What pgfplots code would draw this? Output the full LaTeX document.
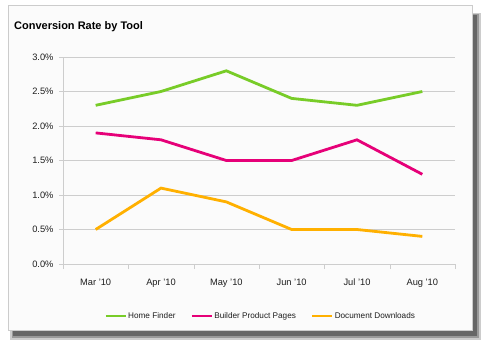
\documentclass[border=0pt]{standalone}
\usepackage{pgfplots}
\pgfplotsset{compat=1.18}
\usepackage{fontspec}
\setmainfont{Liberation Sans}
\definecolor{cgreen}{RGB}{120,204,40}
\definecolor{cpink}{RGB}{230,0,120}
\definecolor{corange}{RGB}{255,176,0}
\definecolor{cgrid}{RGB}{205,205,205}
\definecolor{ctext}{RGB}{30,30,30}
\begin{document}
\begin{tikzpicture}
\path[use as bounding box] (0,0) rectangle (495pt,349pt);
\fill[white] (0,0) rectangle (495pt,349pt);
\fill[black!20] (10pt,9pt) rectangle (481pt,336pt);
\fill[black!40] (12pt,11pt) rectangle (479pt,335pt);
\fill[black!60] (13pt,13pt) rectangle (477pt,334pt);
\filldraw[fill=black!1.5,draw=black!20] (8pt,19pt) rectangle (472pt,344pt);
\node[anchor=west,font=\bfseries\fontsize{11}{13}\selectfont,inner sep=0pt] at (14pt,322pt) {Conversion Rate by Tool};
\begin{axis}[
  at={(63pt,85pt)}, anchor=south west,
  scale only axis, width=392pt, height=207pt,
  xmin=-0.5, xmax=5.5, ymin=0, ymax=3,
  xtick={0,1,2,3,4,5},
  xticklabels={Mar '10,Apr '10,May '10,Jun '10,Jul '10,Aug '10},
  minor xtick={-0.5,0.5,1.5,2.5,3.5,4.5,5.5},
  ytick={0,0.5,1,1.5,2,2.5,3},
  yticklabels={0.0\%,0.5\%,1.0\%,1.5\%,2.0\%,2.5\%,3.0\%},
  tick align=outside,
  major tick length=4pt, minor tick length=5pt,
  major x tick style={draw=none},
  minor x tick style={draw=cgrid},
  y tick style={draw=cgrid},
  ymajorgrids, grid style={cgrid, line width=0.8pt},
  axis line style={cgrid, line width=0.8pt},
  axis x line*=bottom, axis y line*=left,
  tick label style={font=\fontsize{9.3}{11}\selectfont, text=ctext},
  xticklabel style={yshift=-7pt},
  yticklabel style={xshift=-2pt},
  axis background/.style={fill=black!1.5},
  legend columns=3,
  legend style={at={(0.503,-0.251)}, anchor=center, draw=none, fill=none,
    font=\fontsize{8.2}{10}\selectfont, text=ctext,
    /tikz/every even column/.append style={column sep=14pt},
    nodes={inner xsep=1pt}},
  legend image code/.code={\draw[#1] (0pt,0pt) -- (20pt,0pt);},
  every axis plot/.append style={line width=2.8pt},
]
\addplot[cgreen] coordinates {(0,2.3) (1,2.5) (2,2.8) (3,2.4) (4,2.3) (5,2.5)};
\addlegendentry{Home Finder}
\addplot[cpink] coordinates {(0,1.9) (1,1.8) (2,1.5) (3,1.5) (4,1.8) (5,1.3)};
\addlegendentry{Builder Product Pages}
\addplot[corange] coordinates {(0,0.5) (1,1.1) (2,0.9) (3,0.5) (4,0.5) (5,0.4)};
\addlegendentry{Document Downloads}
\end{axis}
\end{tikzpicture}
\end{document}
